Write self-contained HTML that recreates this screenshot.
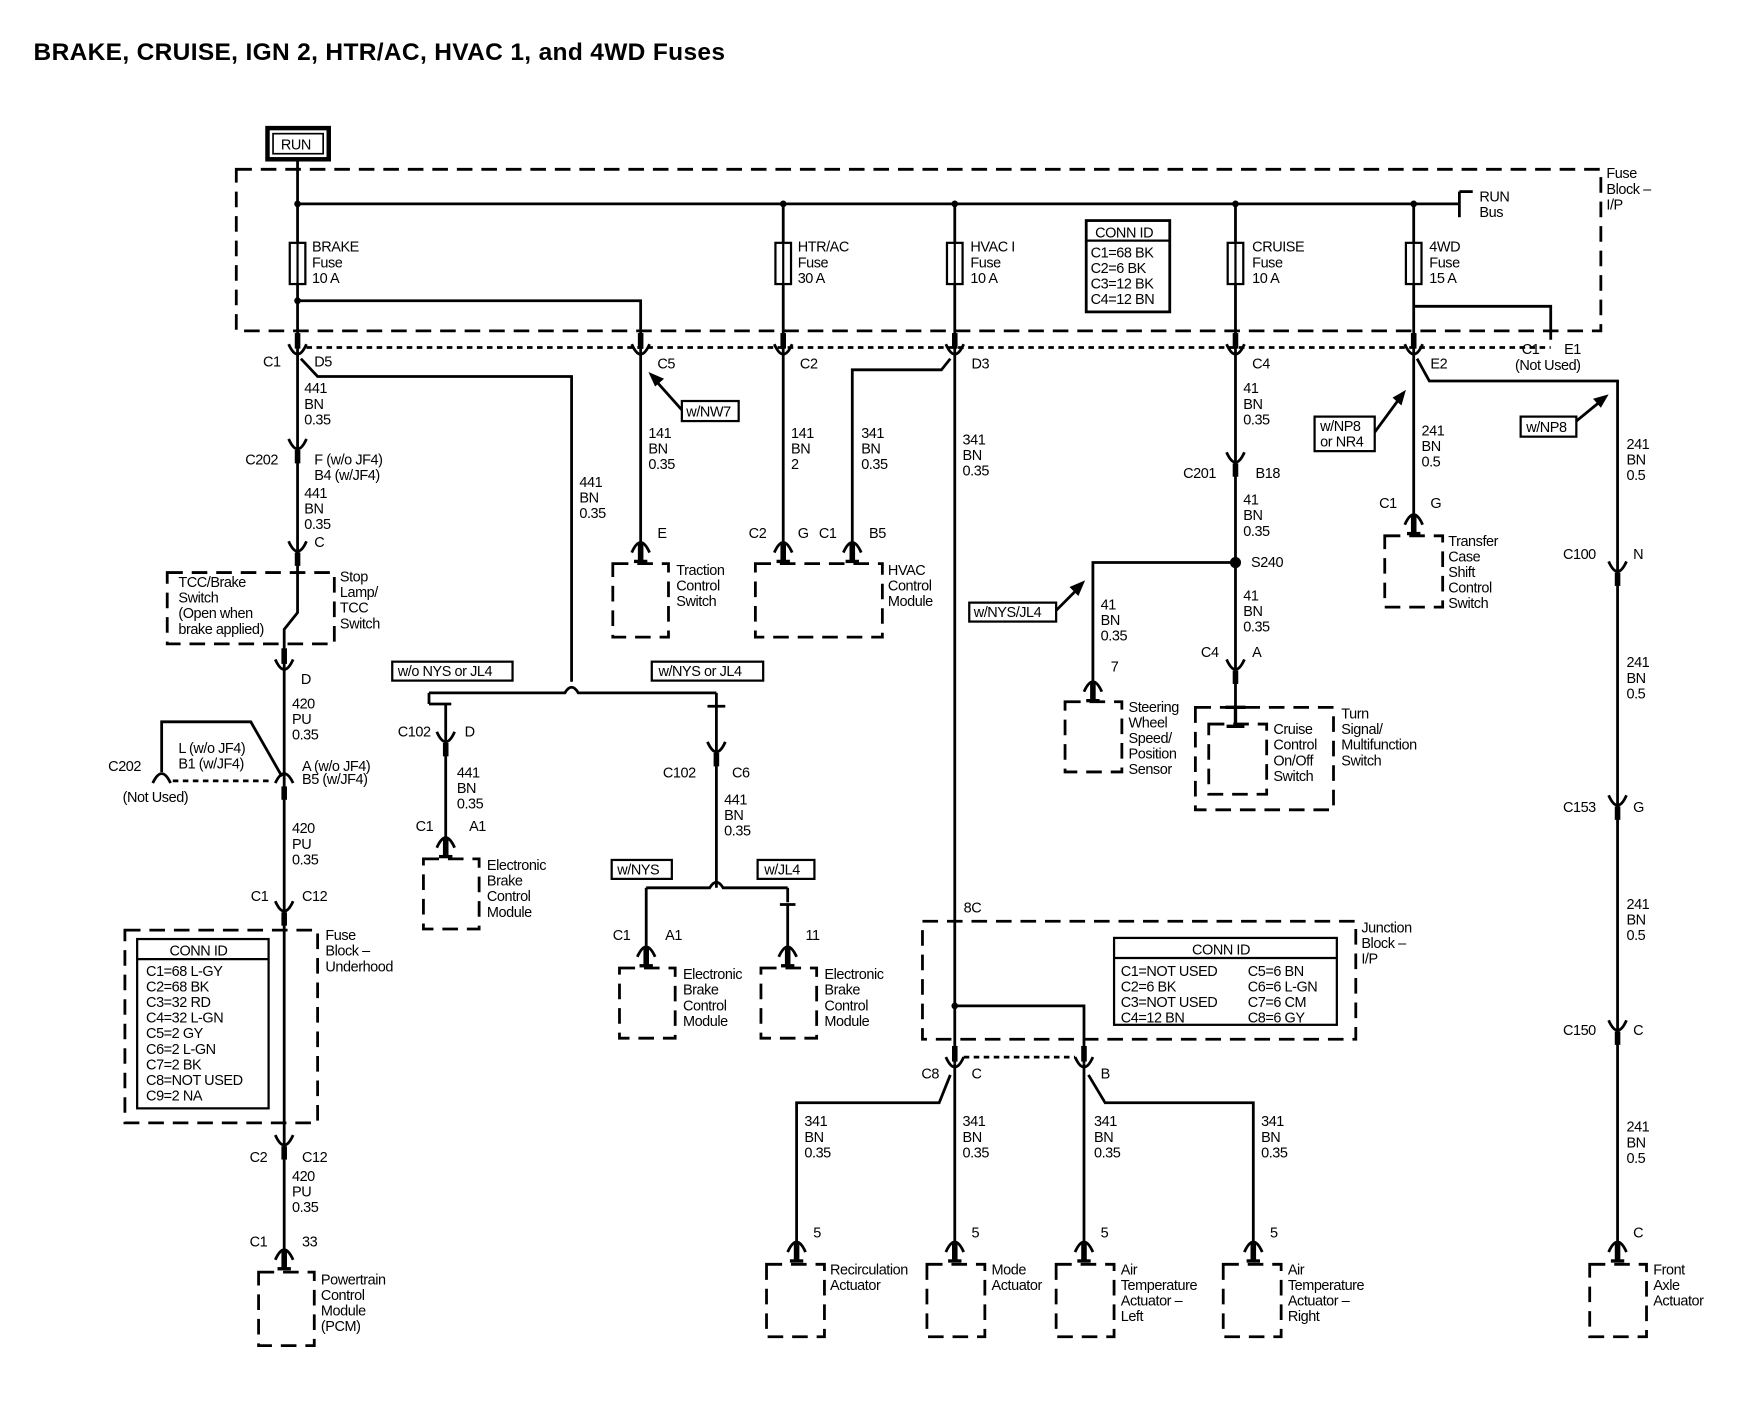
<!DOCTYPE html>
<html><head><meta charset="utf-8"><style>
html,body{margin:0;padding:0;background:#fff}
svg{display:block}
text{font-family:"Liberation Sans",Arial,sans-serif;font-size:13px;fill:#000;letter-spacing:-0.4px}
.t{font-size:22px;font-weight:bold;letter-spacing:0.3px}
.w{stroke:#000;stroke-width:2.5;fill:none}
.d{stroke:#000;stroke-width:2.5;fill:none;stroke-dasharray:14 8}
.dt{stroke:#000;stroke-width:2.5;fill:none;stroke-dasharray:5 4}
.b{stroke:#000;stroke-width:2;fill:#fff}
</style></head><body>
<svg width="1738" height="1408" viewBox="0 0 1560 1264" xmlns="http://www.w3.org/2000/svg">
<defs>
<g id="cu"><path d="M-8,-6 Q0,12 8,-6" class="w"/><line x1="0" y1="-16" x2="0" y2="-2" stroke="#000" stroke-width="5"/></g>
<g id="ic"><path d="M-8,-6 Q0,12 8,-6" class="w"/><line x1="0" y1="4" x2="0" y2="16" stroke="#000" stroke-width="5"/></g>
<g id="pn"><path d="M-8,6 Q0,-12 8,6" class="w"/><line x1="0" y1="-2" x2="0" y2="14" stroke="#000" stroke-width="5"/><line x1="-6" y1="14" x2="6" y2="14" stroke="#000" stroke-width="3"/></g>
<g id="fu"><rect x="-7" y="0" width="14" height="37" class="b"/><line x1="0" y1="0" x2="0" y2="37" stroke="#000" stroke-width="2"/></g>
</defs>
<text x="30" y="54" class="t">BRAKE, CRUISE, IGN 2, HTR/AC, HVAC 1, and 4WD Fuses</text>
<rect x="240" y="115" width="55" height="28" fill="none" stroke="#000" stroke-width="4"/>
<rect x="245" y="120" width="45" height="18" fill="none" stroke="#000" stroke-width="1.5"/>
<text x="252" y="134">RUN</text>

<rect x="212" y="152" width="1225" height="145" class="d"/>
<text x="1442" y="160">Fuse</text><text x="1442" y="174">Block –</text><text x="1442" y="188">I/P</text>
<line x1="267" y1="143" x2="267" y2="312" class="w"/>
<line x1="267" y1="183" x2="1310" y2="183" class="w"/>
<line x1="1310" y1="172" x2="1310" y2="195" class="w"/><line x1="1310" y1="172" x2="1322" y2="172" class="w"/>
<text x="1328" y="181">RUN</text><text x="1328" y="195">Bus</text>
<g fill="#000"><circle cx="267" cy="183" r="3"/><circle cx="703" cy="183" r="3"/><circle cx="857" cy="183" r="3"/><circle cx="1109" cy="183" r="3"/><circle cx="1269" cy="183" r="3"/><circle cx="267" cy="270" r="3"/><circle cx="857" cy="903" r="3"/><circle cx="1109" cy="505" r="5"/></g>
<line x1="703" y1="183" x2="703" y2="490" class="w"/>
<line x1="857" y1="183" x2="857" y2="955" class="w"/>
<line x1="1109" y1="183" x2="1109" y2="635" class="w"/>
<line x1="1269" y1="183" x2="1269" y2="462" class="w"/>
<use href="#fu" x="267" y="218"/><use href="#fu" x="703" y="218"/><use href="#fu" x="857" y="218"/><use href="#fu" x="1109" y="218"/><use href="#fu" x="1269" y="218"/>
<text x="280" y="226">BRAKE</text><text x="280" y="240">Fuse</text><text x="280" y="254">10 A</text>
<text x="716" y="226">HTR/AC</text><text x="716" y="240">Fuse</text><text x="716" y="254">30 A</text>
<text x="871" y="226">HVAC I</text><text x="871" y="240">Fuse</text><text x="871" y="254">10 A</text>
<text x="1124" y="226">CRUISE</text><text x="1124" y="240">Fuse</text><text x="1124" y="254">10 A</text>
<text x="1283" y="226">4WD</text><text x="1283" y="240">Fuse</text><text x="1283" y="254">15 A</text>
<rect x="975" y="198" width="75" height="82" fill="none" stroke="#000" stroke-width="2.5"/>
<line x1="975" y1="216" x2="1050" y2="216" stroke="#000" stroke-width="2"/>
<text x="983" y="213">CONN ID</text><text x="979" y="231">C1=68 BK</text><text x="979" y="245">C2=6 BK</text><text x="979" y="259">C3=12 BK</text><text x="979" y="273">C4=12 BN</text>
<polyline points="267,270 575,270 575,490" class="w"/>
<polyline points="1269,275 1392,275 1392,305" class="w"/>
<line x1="275" y1="312" x2="1392" y2="312" class="dt"/>
<use href="#cu" x="267" y="315"/><use href="#cu" x="575" y="315"/><use href="#cu" x="703" y="315"/><use href="#cu" x="857" y="315"/><use href="#cu" x="1109" y="315"/><use href="#cu" x="1269" y="315"/>
<text x="236" y="329">C1</text><text x="282" y="329">D5</text><text x="590" y="331">C5</text><text x="718" y="331">C2</text><text x="872" y="331">D3</text><text x="1124" y="331">C4</text><text x="1284" y="331">E2</text>
<text x="1366" y="318">C1</text><text x="1404" y="318">E1</text><text x="1360" y="332">(Not Used)</text>

<line x1="267" y1="312" x2="267" y2="535" class="w"/>
<polyline points="270,322 285,338 513,338 513,612" class="w"/>
<text x="273" y="353">441</text><text x="273" y="367">BN</text><text x="273" y="381">0.35</text>
<use href="#ic" x="267" y="400"/>
<text x="220" y="417">C202</text><text x="282" y="417">F (w/o JF4)</text><text x="282" y="431">B4 (w/JF4)</text>
<text x="273" y="447">441</text><text x="273" y="461">BN</text><text x="273" y="475">0.35</text>
<use href="#ic" x="267" y="492"/><text x="282" y="491">C</text>
<rect x="150" y="514" width="150" height="64" class="d"/>
<polyline points="267,535 267,550 255,565 255,1125" class="w"/>
<text x="160" y="527">TCC/Brake</text><text x="160" y="541">Switch</text><text x="160" y="555">(Open when</text><text x="160" y="569">brake applied)</text>
<text x="305" y="522">Stop</text><text x="305" y="536">Lamp/</text><text x="305" y="550">TCC</text><text x="305" y="564">Switch</text>
<use href="#cu" x="255" y="598"/><text x="270" y="614">D</text>
<text x="262" y="636">420</text><text x="262" y="650">PU</text><text x="262" y="664">0.35</text>
<path d="M137,703 Q145,686 153,703" class="w"/><path d="M247,703 Q255,686 263,703" class="w"/>
<polyline points="145,693 145,648 225,648 253,697" class="w"/>
<line x1="155" y1="701" x2="245" y2="701" class="dt"/>
<line x1="255" y1="706" x2="255" y2="718" stroke="#000" stroke-width="5"/>
<text x="160" y="676">L (w/o JF4)</text><text x="160" y="690">B1 (w/JF4)</text>
<text x="271" y="692">A (w/o JF4)</text><text x="271" y="704">B5 (w/JF4)</text>
<text x="97" y="692">C202</text><text x="110" y="720">(Not Used)</text>
<text x="262" y="748">420</text><text x="262" y="762">PU</text><text x="262" y="776">0.35</text>
<use href="#ic" x="255" y="815"/><text x="225" y="809">C1</text><text x="271" y="809">C12</text>
<rect x="112" y="835" width="173" height="173" class="d"/>
<rect x="123" y="843" width="118" height="152" fill="#fff" stroke="#000" stroke-width="2"/>
<line x1="123" y1="861" x2="241" y2="861" stroke="#000" stroke-width="2"/>
<text x="152" y="858">CONN ID</text>
<text x="131" y="876">C1=68 L-GY</text><text x="131" y="890">C2=68 BK</text><text x="131" y="904">C3=32 RD</text><text x="131" y="918">C4=32 L-GN</text><text x="131" y="932">C5=2 GY</text><text x="131" y="946">C6=2 L-GN</text><text x="131" y="960">C7=2 BK</text><text x="131" y="974">C8=NOT USED</text><text x="131" y="988">C9=2 NA</text>
<text x="292" y="844">Fuse</text><text x="292" y="858">Block –</text><text x="292" y="872">Underhood</text>
<use href="#ic" x="255" y="1025"/><text x="224" y="1043">C2</text><text x="271" y="1043">C12</text>
<text x="262" y="1060">420</text><text x="262" y="1074">PU</text><text x="262" y="1088">0.35</text>
<use href="#pn" x="255" y="1125"/><text x="224" y="1119">C1</text><text x="271" y="1119">33</text>
<rect x="232" y="1142" width="50" height="66" class="d"/>
<text x="288" y="1153">Powertrain</text><text x="288" y="1167">Control</text><text x="288" y="1181">Module</text><text x="288" y="1195">(PCM)</text>

<polyline points="612,368 587,340" class="w"/><path d="M582,334 L596,340 L588,347 Z" fill="#000"/>
<rect x="612" y="360" width="51" height="18" class="b"/><text x="616" y="374">w/NW7</text>
<text x="582" y="393">141</text><text x="582" y="407">BN</text><text x="582" y="421">0.35</text>
<use href="#pn" x="575" y="490"/><text x="590" y="483">E</text>
<rect x="550" y="506" width="50" height="66" class="d"/>
<text x="607" y="516">Traction</text><text x="607" y="530">Control</text><text x="607" y="544">Switch</text>
<text x="520" y="437">441</text><text x="520" y="451">BN</text><text x="520" y="465">0.35</text>
<path d="M385,622 L507,622 Q513,612 519,622 L643,622" class="w"/>
<rect x="352" y="594" width="108" height="17" class="b"/><text x="357" y="607">w/o NYS or JL4</text>
<rect x="585" y="594" width="100" height="17" class="b"/><text x="591" y="607">w/NYS or JL4</text>
<line x1="385" y1="622" x2="385" y2="632" class="w"/>
<line x1="400" y1="632" x2="400" y2="760" class="w"/><line x1="385" y1="632" x2="405" y2="632" class="w"/>
<use href="#ic" x="400" y="663"/><text x="357" y="661">C102</text><text x="417" y="661">D</text>
<text x="410" y="698">441</text><text x="410" y="712">BN</text><text x="410" y="726">0.35</text>
<use href="#pn" x="400" y="755"/><text x="373" y="746">C1</text><text x="421" y="746">A1</text>
<rect x="380" y="771" width="50" height="63" class="d"/>
<text x="437" y="781">Electronic</text><text x="437" y="795">Brake</text><text x="437" y="809">Control</text><text x="437" y="823">Module</text>
<line x1="643" y1="622" x2="643" y2="797" class="w"/><line x1="635" y1="634" x2="651" y2="634" class="w"/>
<use href="#ic" x="643" y="672"/><text x="595" y="698">C102</text><text x="657" y="698">C6</text>
<text x="650" y="722">441</text><text x="650" y="736">BN</text><text x="650" y="750">0.35</text>
<path d="M580,797 L637,797 Q643,787 649,797 L707,797" class="w"/>
<rect x="549" y="772" width="54" height="17" class="b"/><text x="554" y="785">w/NYS</text>
<rect x="680" y="772" width="51" height="17" class="b"/><text x="686" y="785">w/JL4</text>
<line x1="580" y1="797" x2="580" y2="850" class="w"/><line x1="707" y1="797" x2="707" y2="810" class="w"/><line x1="700" y1="812" x2="714" y2="812" class="w"/><line x1="707" y1="812" x2="707" y2="850" class="w"/>
<use href="#pn" x="580" y="853"/><text x="550" y="844">C1</text><text x="597" y="844">A1</text>
<use href="#pn" x="707" y="853"/><text x="723" y="844">11</text>
<rect x="556" y="869" width="50" height="63" class="d"/><rect x="683" y="869" width="50" height="63" class="d"/>
<text x="613" y="879">Electronic</text><text x="613" y="893">Brake</text><text x="613" y="907">Control</text><text x="613" y="921">Module</text>
<text x="740" y="879">Electronic</text><text x="740" y="893">Brake</text><text x="740" y="907">Control</text><text x="740" y="921">Module</text>

<text x="710" y="393">141</text><text x="710" y="407">BN</text><text x="710" y="421">2</text>
<polyline points="765,490 765,332 845,332 853,322" class="w"/>
<text x="773" y="393">341</text><text x="773" y="407">BN</text><text x="773" y="421">0.35</text>
<use href="#pn" x="703" y="490"/><use href="#pn" x="765" y="490"/>
<text x="672" y="483">C2</text><text x="716" y="483">G</text><text x="735" y="483">C1</text><text x="780" y="483">B5</text>
<rect x="678" y="506" width="114" height="66" class="d"/>
<text x="797" y="516">HVAC</text><text x="797" y="530">Control</text><text x="797" y="544">Module</text>

<text x="864" y="399">341</text><text x="864" y="413">BN</text><text x="864" y="427">0.35</text>
<text x="865" y="819">8C</text>
<rect x="828" y="827" width="389" height="106" class="d"/>
<rect x="1000" y="842" width="200" height="78" fill="#fff" stroke="#000" stroke-width="2"/>
<line x1="1000" y1="860" x2="1200" y2="860" stroke="#000" stroke-width="2"/>
<text x="1070" y="857">CONN ID</text>
<text x="1006" y="876">C1=NOT USED</text><text x="1006" y="890">C2=6 BK</text><text x="1006" y="904">C3=NOT USED</text><text x="1006" y="918">C4=12 BN</text>
<text x="1120" y="876">C5=6 BN</text><text x="1120" y="890">C6=6 L-GN</text><text x="1120" y="904">C7=6 CM</text><text x="1120" y="918">C8=6 GY</text>
<text x="1222" y="837">Junction</text><text x="1222" y="851">Block –</text><text x="1222" y="865">I/P</text>
<polyline points="857,903 973,903 973,955" class="w"/>
<line x1="865" y1="949" x2="965" y2="949" class="dt"/>
<use href="#cu" x="857" y="955"/><use href="#cu" x="973" y="955"/>
<text x="827" y="968">C8</text><text x="872" y="968">C</text><text x="988" y="968">B</text>
<line x1="857" y1="955" x2="857" y2="1115" class="w"/><line x1="973" y1="955" x2="973" y2="1115" class="w"/>
<polyline points="853,965 843,990 715,990 715,1115" class="w"/>
<polyline points="977,965 992,990 1125,990 1125,1115" class="w"/>
<text x="722" y="1011">341</text><text x="722" y="1025">BN</text><text x="722" y="1039">0.35</text>
<text x="864" y="1011">341</text><text x="864" y="1025">BN</text><text x="864" y="1039">0.35</text>
<text x="982" y="1011">341</text><text x="982" y="1025">BN</text><text x="982" y="1039">0.35</text>
<text x="1132" y="1011">341</text><text x="1132" y="1025">BN</text><text x="1132" y="1039">0.35</text>
<use href="#pn" x="715" y="1118"/><use href="#pn" x="857" y="1118"/><use href="#pn" x="973" y="1118"/><use href="#pn" x="1125" y="1118"/>
<text x="730" y="1111">5</text><text x="872" y="1111">5</text><text x="988" y="1111">5</text><text x="1140" y="1111">5</text>
<rect x="688" y="1135" width="52" height="65" class="d"/><rect x="832" y="1135" width="52" height="65" class="d"/><rect x="948" y="1135" width="52" height="65" class="d"/><rect x="1098" y="1135" width="52" height="65" class="d"/>
<text x="745" y="1144">Recirculation</text><text x="745" y="1158">Actuator</text>
<text x="890" y="1144">Mode</text><text x="890" y="1158">Actuator</text>
<text x="1006" y="1144">Air</text><text x="1006" y="1158">Temperature</text><text x="1006" y="1172">Actuator –</text><text x="1006" y="1186">Left</text>
<text x="1156" y="1144">Air</text><text x="1156" y="1158">Temperature</text><text x="1156" y="1172">Actuator –</text><text x="1156" y="1186">Right</text>

<text x="1116" y="353">41</text><text x="1116" y="367">BN</text><text x="1116" y="381">0.35</text>
<use href="#ic" x="1109" y="412"/><text x="1062" y="429">C201</text><text x="1127" y="429">B18</text>
<text x="1116" y="453">41</text><text x="1116" y="467">BN</text><text x="1116" y="481">0.35</text>
<text x="1123" y="509">S240</text>
<polyline points="1109,505 981,505 981,612" class="w"/>
<polyline points="948,548 968,528" class="w"/><path d="M974,521 L960,527 L968,535 Z" fill="#000"/>
<rect x="870" y="541" width="78" height="17" class="b"/><text x="874" y="554">w/NYS/JL4</text>
<text x="988" y="547">41</text><text x="988" y="561">BN</text><text x="988" y="575">0.35</text>
<use href="#pn" x="981" y="615"/><text x="997" y="603">7</text>
<rect x="956" y="630" width="51" height="63" class="d"/>
<text x="1013" y="639">Steering</text><text x="1013" y="653">Wheel</text><text x="1013" y="667">Speed/</text><text x="1013" y="681">Position</text><text x="1013" y="695">Sensor</text>
<text x="1116" y="539">41</text><text x="1116" y="553">BN</text><text x="1116" y="567">0.35</text>
<use href="#ic" x="1109" y="598"/><text x="1078" y="590">C4</text><text x="1124" y="590">A</text>
<line x1="1100" y1="635" x2="1118" y2="635" stroke="#000" stroke-width="3"/>
<rect x="1073" y="635" width="124" height="92" class="d"/>
<rect x="1085" y="650" width="52" height="63" class="d"/>
<line x1="1109" y1="635" x2="1109" y2="652" stroke="#000" stroke-width="3"/><line x1="1101" y1="652" x2="1117" y2="652" stroke="#000" stroke-width="3"/>
<text x="1143" y="659">Cruise</text><text x="1143" y="673">Control</text><text x="1143" y="687">On/Off</text><text x="1143" y="701">Switch</text>
<text x="1204" y="645">Turn</text><text x="1204" y="659">Signal/</text><text x="1204" y="673">Multifunction</text><text x="1204" y="687">Switch</text>

<polyline points="1234,388 1256,358" class="w"/><path d="M1262,350 L1250,357 L1258,364 Z" fill="#000"/>
<rect x="1180" y="374" width="54" height="31" class="b"/><text x="1185" y="387">w/NP8</text><text x="1185" y="401">or NR4</text>
<text x="1276" y="391">241</text><text x="1276" y="405">BN</text><text x="1276" y="419">0.5</text>
<use href="#pn" x="1269" y="465"/><text x="1238" y="456">C1</text><text x="1284" y="456">G</text>
<rect x="1243" y="481" width="52" height="64" class="d"/>
<text x="1300" y="490">Transfer</text><text x="1300" y="504">Case</text><text x="1300" y="518">Shift</text><text x="1300" y="532">Control</text><text x="1300" y="546">Switch</text>
<polyline points="1272,322 1283,342 1452,342 1452,1115" class="w"/>
<polyline points="1415,378 1437,360" class="w"/><path d="M1444,354 L1430,358 L1437,366 Z" fill="#000"/>
<rect x="1365" y="374" width="50" height="18" class="b"/><text x="1370" y="388">w/NP8</text>
<text x="1460" y="403">241</text><text x="1460" y="417">BN</text><text x="1460" y="431">0.5</text>
<use href="#ic" x="1452" y="510"/><text x="1403" y="502">C100</text><text x="1466" y="502">N</text>
<text x="1460" y="599">241</text><text x="1460" y="613">BN</text><text x="1460" y="627">0.5</text>
<use href="#ic" x="1452" y="720"/><text x="1403" y="729">C153</text><text x="1466" y="729">G</text>
<text x="1460" y="816">241</text><text x="1460" y="830">BN</text><text x="1460" y="844">0.5</text>
<use href="#ic" x="1452" y="922"/><text x="1403" y="929">C150</text><text x="1466" y="929">C</text>
<text x="1460" y="1016">241</text><text x="1460" y="1030">BN</text><text x="1460" y="1044">0.5</text>
<use href="#pn" x="1452" y="1118"/><text x="1466" y="1111">C</text>
<rect x="1427" y="1135" width="51" height="65" class="d"/>
<text x="1484" y="1144">Front</text><text x="1484" y="1158">Axle</text><text x="1484" y="1172">Actuator</text>
</svg>
</body></html>
